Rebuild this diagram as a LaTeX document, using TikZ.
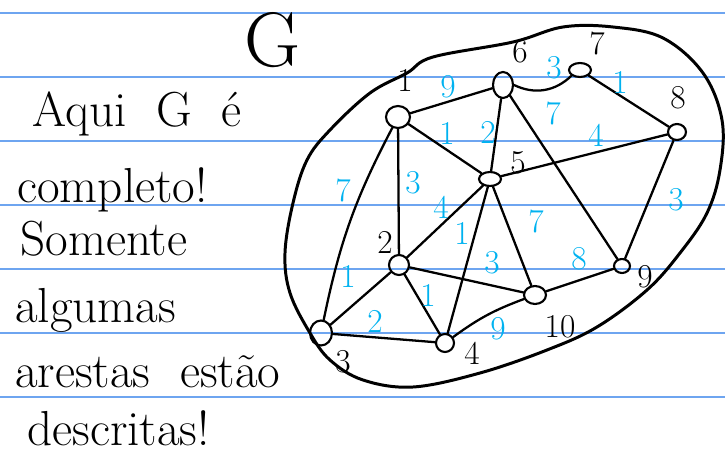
\documentclass[tikz,border=0pt]{standalone}
\usetikzlibrary{shapes.geometric}
\definecolor{ruleblue}{RGB}{110,165,240}
\definecolor{weightblue}{RGB}{0,178,240}
\begin{document}
\begin{tikzpicture}[
    x=0.02cm, y=-0.02cm,
    vertex/.style={ellipse, draw, line width=1.2pt, inner sep=0pt, minimum width=0.4cm, minimum height=0.4cm},
    edge/.style={line width=1.3pt, line cap=round},
    ruling/.style={ruleblue, line width=0.9pt},
    vlabel/.style={font=\fontsize{19}{21}\selectfont},
    weight/.style={text=weightblue, font=\fontsize{19}{21}\selectfont},
    note/.style={anchor=base west, inner sep=0pt, font=\fontsize{28}{30}\selectfont}
]
\useasboundingbox (0,0) rectangle (725,456);

% Ruled paper
\foreach \y in {13,77,141,205,269,333,397}
  \draw[ruling] (0,\y) -- (725,\y);

% Side remark
\node[note] (t1) at (32,127) {Aqui\ \ G\ \ é};
\node[note] (t2) at (17,203) {completo!};
\node[note] (t3) at (20,256) {Somente};
\node[note] (t4) at (15,323) {algumas};
\node[note] (t5) at (15,388) {arestas\ \ estão};
\node[note] (t6) at (27,446) {descritas!};

% Name of the graph
\node[font=\fontsize{44}{46}\selectfont] (gname) at (273,40) {G};

% Outline of G
\draw[line width=1.7pt] plot[smooth cycle, tension=0.6] coordinates {
  (433,57) (513,42) (563,27) (613,27) (663,38) (703,73) (722,120)
  (720,170) (707,213) (680,253) (647,290) (597,327) (547,350)
  (480,373) (413,387) (363,380) (330,360) (310,333) (290,293)
  (285,253) (293,203) (307,160) (330,130) (370,93) (407,73)};

% Vertices
\node[vertex, minimum width=0.48cm, minimum height=0.44cm] (v1) at (398,117) {};
\node[vertex, minimum width=0.40cm, minimum height=0.40cm] (v2) at (399,265) {};
\node[vertex, minimum width=0.44cm, minimum height=0.50cm] (v3) at (321,333) {};
\node[vertex, minimum width=0.36cm, minimum height=0.36cm] (v4) at (445,343) {};
\node[vertex, minimum width=0.44cm, minimum height=0.28cm] (v5) at (490,179) {};
\node[vertex, minimum width=0.40cm, minimum height=0.52cm] (v6) at (503,85) {};
\node[vertex, minimum width=0.44cm, minimum height=0.28cm] (v7) at (580,70) {};
\node[vertex, minimum width=0.36cm, minimum height=0.32cm] (v8) at (677,132) {};
\node[vertex, minimum width=0.32cm, minimum height=0.28cm] (v9) at (622,266) {};
\node[vertex, minimum width=0.44cm, minimum height=0.36cm] (v10) at (535,295) {};

% Vertex numbers
\node[vlabel] (l1) at (405,80) {1};
\node[vlabel] (l2) at (385,242) {2};
\node[vlabel] (l3) at (343,362) {3};
\node[vlabel] (l4) at (472,353) {4};
\node[vlabel] (l5) at (518,163) {5};
\node[vlabel] (l6) at (520,52) {6};
\node[vlabel] (l7) at (597,43) {7};
\node[vlabel] (l8) at (678,98) {8};
\node[vlabel] (l9) at (645,277) {9};
\node[vlabel] (l10) at (560,327) {10};

% Edges
\draw[edge] (v1) -- (v6);
\draw[edge] (v6.east) to[bend right=35] (v7.south west);
\draw[edge] (v7) -- (v8);
\draw[edge] (v1) -- (v5);
\draw[edge] (v6) -- (v5);
\draw[edge] (v6) -- (v9);
\draw[edge] (v5) -- (v8);
\draw[edge] (v8) -- (v9);
\draw[edge] (v1) to[bend right=8] (v3);
\draw[edge] (v1) -- (v2);
\draw[edge] (v5) -- (v2);
\draw[edge] (v5) -- (v4);
\draw[edge] (v5) -- (v10);
\draw[edge] (v2) -- (v10);
\draw[edge] (v10) -- (v9);
\draw[edge] (v2) -- (v3);
\draw[edge] (v2) -- (v4);
\draw[edge] (v3) -- (v4);
\draw[edge] (v4) to[bend left=8] (v10);

% Weights
\node[weight] (w16) at (448,87) {9};
\node[weight] (w67) at (554,68) {3};
\node[weight] (w78) at (620,82) {1};
\node[weight] (w15) at (447,133) {1};
\node[weight] (w56) at (488,132) {2};
\node[weight] (w69) at (553,113) {7};
\node[weight] (w58) at (596,135) {4};
\node[weight] (w89) at (676,200) {3};
\node[weight] (w13) at (343,190) {7};
\node[weight] (w12) at (413,183) {3};
\node[weight] (w25) at (441,207) {4};
\node[weight] (w45) at (462,233) {1};
\node[weight] (w510) at (536,221) {7};
\node[weight] (w210) at (492,263) {3};
\node[weight] (w910) at (579,259) {8};
\node[weight] (w23) at (348,276) {1};
\node[weight] (w24) at (428,295) {1};
\node[weight] (w34) at (375,321) {2};
\node[weight] (w410) at (498,329) {9};

\end{tikzpicture}
\end{document}
